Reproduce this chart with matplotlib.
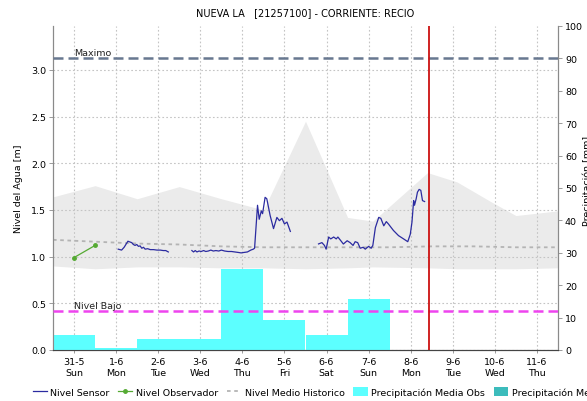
import matplotlib
matplotlib.use("Agg")
import matplotlib.pyplot as plt
from matplotlib.patches import Patch
import numpy as np

plt.rcParams['font.family'] = ['DejaVu Sans']
plt.rcParams['font.size'] = 6.8

# ---- data (x in days, 0 = 31-5) ----
day_labels = ["31-5\nSun", "1-6\nMon", "2-6\nTue", "3-6\nWed", "4-6\nThu", "5-6\nFri",
              "6-6\nSat", "7-6\nSun", "8-6\nMon", "9-6\nTue", "10-6\nWed", "11-6\nThu"]

hist_x = [-0.5, 0.5, 1.5, 2.5, 3.5, 4.5, 5.5, 6.5, 7.1, 8.4, 9.1, 9.9, 10.5, 11.5]
hist_max = [1.64, 1.76, 1.62, 1.75, 1.62, 1.50, 2.45, 1.42, 1.38, 1.90, 1.80, 1.59, 1.44, 1.49]
hist_min = [0.90, 0.87, 0.89, 0.89, 0.88, 0.88, 0.87, 0.88, 0.89, 0.88, 0.87, 0.87, 0.87, 0.88]

mean_x = [-0.5, 0.5, 1.5, 2.5, 3.5, 4.5, 5.5, 6.5, 7.5, 8.5, 9.5, 10.5, 11.5]
mean_level = [1.18, 1.16, 1.14, 1.13, 1.11, 1.10, 1.10, 1.10, 1.10, 1.11, 1.11, 1.10, 1.10]

sensor_x1 = [1.05, 1.13, 1.19, 1.28, 1.37, 1.41, 1.45, 1.49, 1.53, 1.57, 1.61, 1.65, 1.69,
             1.75, 1.81, 1.89, 1.97, 2.05, 2.12, 2.18, 2.24]
sensor_y1 = [1.08, 1.07, 1.10, 1.165, 1.15, 1.13, 1.12, 1.13, 1.11, 1.115, 1.09, 1.10, 1.08,
             1.085, 1.075, 1.075, 1.07, 1.07, 1.065, 1.065, 1.05]

sensor_x2 = [2.80, 2.84, 2.88, 2.92, 2.97, 3.02, 3.08, 3.13, 3.19, 3.25, 3.31, 3.37, 3.44,
             3.50, 3.58, 3.66, 3.74, 3.82, 3.90, 3.97, 4.04, 4.12, 4.20, 4.26, 4.29,
             4.36, 4.40, 4.45, 4.48, 4.54, 4.58, 4.66, 4.74, 4.82, 4.88, 4.94, 5.00,
             5.06, 5.14]
sensor_y2 = [1.065, 1.05, 1.065, 1.05, 1.06, 1.055, 1.065, 1.055, 1.06, 1.07, 1.06, 1.065,
             1.06, 1.07, 1.06, 1.055, 1.055, 1.05, 1.045, 1.04, 1.045, 1.05, 1.07, 1.08, 1.09,
             1.55, 1.40, 1.49, 1.46, 1.635, 1.62, 1.44, 1.30, 1.42, 1.385, 1.41, 1.35,
             1.37, 1.27]

sensor_x3 = [5.81, 5.89, 5.95, 5.99, 6.05, 6.10, 6.17, 6.23, 6.27, 6.34, 6.40, 6.49, 6.56,
             6.63, 6.68, 6.74, 6.80, 6.87, 6.92, 7.00, 7.06, 7.10, 7.16, 7.24, 7.29, 7.36,
             7.42, 7.47, 7.59, 7.71, 7.83, 7.93, 7.99, 8.03, 8.07, 8.09, 8.13, 8.16, 8.20,
             8.24, 8.28, 8.33]
sensor_y3 = [1.136, 1.15, 1.12, 1.08, 1.21, 1.19, 1.21, 1.19, 1.21, 1.17, 1.135, 1.17, 1.15,
             1.12, 1.16, 1.15, 1.09, 1.10, 1.08, 1.11, 1.09, 1.12, 1.31, 1.42, 1.41, 1.33,
             1.375, 1.35, 1.28, 1.225, 1.19, 1.16, 1.24, 1.37, 1.60, 1.55, 1.62, 1.69, 1.72,
             1.71, 1.60, 1.59]

observer_x = [0.0, 0.5]
observer_y = [0.99, 1.12]

precip_days = [0, 1, 2, 3, 4, 5, 6, 7]
precip_obs = [4.6, 0.5, 3.4, 3.4, 25.0, 9.2, 4.6, 15.7]
precip_pred_days = []
precip_pred = []

level_max = 3.13
level_low = 0.42
now_x = 8.44

obs_color = '#5cffff'
pred_color = '#3cbcbc'

# ---- figure ----
fig = plt.figure(figsize=(5.87, 4.02), dpi=100)
pos = [53 / 587, 1 - 351 / 402, (558 - 53) / 587, (351 - 27) / 402]
ax = fig.add_axes(pos)
ax2 = ax.twinx()
ax3 = fig.add_axes(pos, sharex=ax, sharey=ax)
ax3.patch.set_visible(False)
ax3.axis('off')

ax.set_xlim(-0.5, 11.5)
ax.set_ylim(0, 3.47)
ax2.set_ylim(0, 100)

# historical envelope and mean
ax.fill_between(hist_x, hist_min, hist_max, color='#ebebeb', lw=0, zorder=0.2)
ax.plot(mean_x, mean_level, color='#b4b4b4', lw=1.3, ls=(0, (2, 2)), zorder=1,
        label='Nivel Medio Historico')

# grid
ax.set_axisbelow(True)
ax.grid(True, color='#c4c4c4', ls=(0, (1.5, 2)), lw=0.8)

# precipitation bars
ax2.bar(precip_days, precip_obs, width=1.0, color=obs_color, lw=0)
ax2.bar(precip_pred_days, precip_pred, width=1.0, color=pred_color, lw=0)

# levels
ax3.plot(sensor_x1, sensor_y1, color='#2b2ba0', lw=0.9, label='Nivel Sensor')
ax3.plot(sensor_x2, sensor_y2, color='#2b2ba0', lw=0.9)
ax3.plot(sensor_x3, sensor_y3, color='#2b2ba0', lw=0.9)
ax3.plot(observer_x, observer_y, color='#55aa33', lw=0.9, marker='o', ms=2.5,
         label='Nivel Observador')
ax3.axhline(level_max, color='#687890', lw=1.8, dashes=(4, 2))
ax3.axhline(level_low, color='#ee44ee', lw=1.8, dashes=(4, 2))
ax3.axvline(now_x, color='#cc1111', lw=1.3)
ax3.text(0, level_max + 0.01, 'Maximo', fontsize=6.8, color='#222222', va='bottom')
ax3.text(0, level_low + 0.01, 'Nivel Bajo', fontsize=6.8, color='#222222', va='bottom')

# axes styling
ax.set_xticks(range(len(day_labels)))
ax.set_xticklabels(day_labels, linespacing=1.3)
ax.set_yticks(np.arange(0, 3.01, 0.5))
ax.set_yticklabels([f"{v:.1f}" for v in np.arange(0, 3.01, 0.5)])
ax2.set_yticks(range(0, 101, 10))
ax.set_ylabel('Nivel del Agua [m]', fontsize=6.8, labelpad=6)

for a in (ax, ax2):
    a.spines['top'].set_visible(False)
    a.spines['left'].set_color('#8a8a8a')
    a.spines['right'].set_color('#8a8a8a')
    a.spines['bottom'].set_color('#444444')
    a.spines['bottom'].set_linestyle((0, (1, 1)))
ax.tick_params(axis='both', length=3, width=0.6, color='#8a8a8a', pad=2, labelsize=6.8)
ax2.tick_params(axis='y', length=3, width=0.6, color='#8a8a8a', pad=2, labelsize=6.8)
ax.tick_params(axis='x', length=2, pad=3)

fig.text(0.992, 0.55, 'Precipitación [mm]', rotation=90, ha='left', va='center',
         fontsize=6.8)

fig.suptitle('NUEVA LA   [21257100] - CORRIENTE: RECIO', x=305 / 587, y=1 - 8 / 402,
             fontsize=7, va='top')

# legend
h3, l3 = ax3.get_legend_handles_labels()
h1, l1 = ax.get_legend_handles_labels()
handles = h3 + h1 + [Patch(color=obs_color, lw=0), Patch(color=pred_color, lw=0)]
labels = l3 + l1 + ['Precipitación Media Obs', 'Precipitación Media Pronosticada']
fig.legend(handles, labels, loc='center left',
           bbox_to_anchor=(24 / 587, 1 - 393 / 402), ncol=5, frameon=False,
           handlelength=1.5, handletextpad=0.4, columnspacing=0.9, fontsize=6.8,
           handleheight=1.0)

fig.savefig('out.png', dpi=100)
